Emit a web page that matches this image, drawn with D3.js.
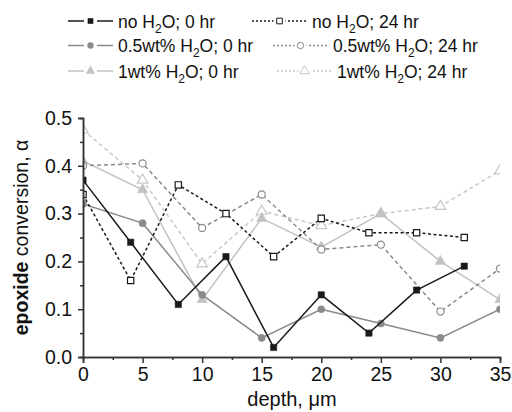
<!DOCTYPE html>
<html>
<head>
<meta charset="utf-8">
<script src="https://cdn.jsdelivr.net/npm/d3@7"></script>
<style>
  body { margin: 0; background: #fff; }
  svg { font-family: "Liberation Sans", Arial, sans-serif; }
</style>
</head>
<body>
<div id="chart"></div>
<script>
// ---- data ----
const depthA = [0, 4, 8, 12, 16, 20, 24, 28, 32];
const depthB = [0, 5, 10, 15, 20, 25, 30, 35];

const noWater0 = [0.37, 0.24, 0.11, 0.21, 0.02, 0.13, 0.05, 0.14, 0.19];
const noWater24 = [0.34, 0.16, 0.36, 0.30, 0.21, 0.29, 0.26, 0.26, 0.25];
const half0 = [0.32, 0.28, 0.13, 0.04, 0.10, 0.07, 0.04, 0.10];
const half24 = [0.40, 0.405, 0.27, 0.34, 0.225, 0.235, 0.095, 0.185];
const one0 = [0.41, 0.35, 0.12, 0.29, 0.23, 0.30, 0.20, 0.12];
const one24 = [0.475, 0.37, 0.195, 0.305, 0.275, 0.30, 0.315, 0.39];

const xTicks = [0, 5, 10, 15, 20, 25, 30, 35];
const yTicks = [0.0, 0.1, 0.2, 0.3, 0.4, 0.5];

const width = 512, height = 412;
const margin = { left: 83, right: 12, top: 118, bottom: 55 };

const series = [
  { name: "no", hr: "0", x: depthA, y: noWater0, color: "#1a1a1a", dash: null, shape: "square", fill: true },
  { name: "no", hr: "24", x: depthA, y: noWater24, color: "#1a1a1a", dash: "3,2.5", shape: "square", fill: false },
  { name: "0.5wt%", hr: "0", x: depthB, y: half0, color: "#8a8a8a", dash: null, shape: "circle", fill: true },
  { name: "0.5wt%", hr: "24", x: depthB, y: half24, color: "#8a8a8a", dash: "4,3", shape: "circle", fill: false },
  { name: "1wt%", hr: "0", x: depthB, y: one0, color: "#c2c2c2", dash: null, shape: "triangle", fill: true },
  { name: "1wt%", hr: "24", x: depthB, y: one24, color: "#c8c8c8", dash: "4,3", shape: "triangle", fill: false }
];

const svg = d3.select("#chart").append("svg")
  .attr("width", width)
  .attr("height", height);

const xScale = d3.scaleLinear().domain([0, 35]).range([margin.left, width - margin.right]);
const yScale = d3.scaleLinear().domain([0, 0.5]).range([height - margin.bottom, margin.top]);

svg.append("clipPath").attr("id", "plot-clip")
  .append("rect")
  .attr("x", xScale(0))
  .attr("y", yScale(0.5) - 12)
  .attr("width", xScale(35) - xScale(0))
  .attr("height", yScale(0) - yScale(0.5) + 12);

const symbolFor = { square: d3.symbolSquare, circle: d3.symbolCircle, triangle: d3.symbolTriangle };
const sizeFor = { square: 40, circle: 40, triangle: 48 };

function markerPath(s, k = 1) {
  return d3.symbol().type(symbolFor[s.shape]).size(sizeFor[s.shape] * k)();
}

// ---- lines and markers ----
const plot = svg.append("g").attr("clip-path", "url(#plot-clip)");
const line = d3.line().x(d => xScale(d[0])).y(d => yScale(d[1]));

// draw lighter series first
series.slice().reverse().forEach(s => {
  const pts = s.x.map((d, i) => [d, s.y[i]]);
  plot.append("path")
    .datum(pts)
    .attr("d", line)
    .attr("fill", "none")
    .attr("stroke", s.color)
    .attr("stroke-width", 1.5)
    .attr("stroke-dasharray", s.dash);

  plot.selectAll(null)
    .data(pts)
    .join("path")
    .attr("transform", d => `translate(${xScale(d[0])},${yScale(d[1])})`)
    .attr("d", markerPath(s))
    .attr("fill", s.fill ? s.color : "#fff")
    .attr("stroke", s.color)
    .attr("stroke-width", s.fill ? 0.5 : 1.2);
});

// ---- axes ----
const axisColor = "#333";

function styleAxis(g) {
  g.select(".domain").attr("stroke", axisColor).attr("stroke-width", 1.5);
  g.selectAll(".tick line").attr("stroke", axisColor).attr("stroke-width", 1.5);
  g.selectAll(".tick text").attr("fill", "#111").style("font-size", "19.5px");
}

const minorY = d3.range(0.05, 0.5, 0.1);
svg.append("g")
  .attr("transform", `translate(${xScale(0)},0)`)
  .call(d3.axisLeft(yScale).tickValues(minorY).tickSize(3).tickFormat(""))
  .call(styleAxis);
svg.append("g")
  .attr("transform", `translate(${xScale(0)},0)`)
  .call(d3.axisLeft(yScale).tickValues(yTicks).tickSize(5).tickPadding(6).tickFormat(d3.format(".1f")))
  .call(styleAxis);

const minorX = d3.range(2.5, 35, 5);
svg.append("g")
  .attr("transform", `translate(0,${yScale(0)})`)
  .call(d3.axisBottom(xScale).tickValues(minorX).tickSize(3).tickFormat(""))
  .call(styleAxis);
svg.append("g")
  .attr("transform", `translate(0,${yScale(0)})`)
  .call(d3.axisBottom(xScale).tickValues(xTicks).tickSize(6).tickPadding(4).tickFormat(d3.format("d")))
  .call(styleAxis);

// axis labels
svg.append("text")
  .attr("x", 292)
  .attr("y", 406)
  .attr("text-anchor", "middle")
  .style("font-size", "20px")
  .attr("fill", "#111")
  .text("depth, μm");

const yLabel = svg.append("text")
  .attr("transform", `translate(28,${(yScale(0) + yScale(0.5)) / 2}) rotate(-90)`)
  .attr("text-anchor", "middle")
  .style("font-size", "19.5px")
  .attr("fill", "#111");
yLabel.append("tspan").attr("font-weight", "bold").text("epoxide");
yLabel.append("tspan").text(" conversion, α");

// ---- legend ----
const legendRows = [21, 45.5, 71];
const legendCols = [[68, 68, 68], [252, 273, 277]];
const sampleWs = [45, 55];

series.forEach((s, i) => {
  const row = Math.floor(i / 2), col = i % 2;
  const sampleW = sampleWs[col];
  const x0 = legendCols[col][row], y0 = legendRows[row];
  const g = svg.append("g").attr("transform", `translate(${x0},${y0})`);
  const segs = col ? [[0, sampleW]] : [[0, 16], [sampleW - 16, sampleW]];
  segs.forEach(([a, b]) => {
    g.append("line")
      .attr("x1", a).attr("x2", b)
      .attr("stroke", s.color)
      .attr("stroke-width", 1.5)
      .attr("stroke-dasharray", col ? "2,2" : null);
  });
  if (col) {
    g.append("rect")
      .attr("x", sampleW / 2 - 6).attr("y", -6)
      .attr("width", 12).attr("height", 12)
      .attr("fill", "#fff");
  }
  g.append("path")
    .attr("transform", `translate(${sampleW / 2},0)`)
    .attr("d", markerPath(s, 0.8))
    .attr("fill", s.fill ? s.color : "#fff")
    .attr("stroke", s.fill ? "none" : s.color)
    .attr("stroke-width", 1);
  const t = g.append("text")
    .attr("x", sampleW + 5)
    .attr("y", 6.5)
    .style("font-size", "17.5px")
    .attr("fill", "#111");
  t.append("tspan").text(`${s.name} H`);
  t.append("tspan").attr("dy", 5).style("font-size", "12px").text("2");
  t.append("tspan").attr("dy", -5).text(`O; ${s.hr} hr`);
});
</script>
</body>
</html>
